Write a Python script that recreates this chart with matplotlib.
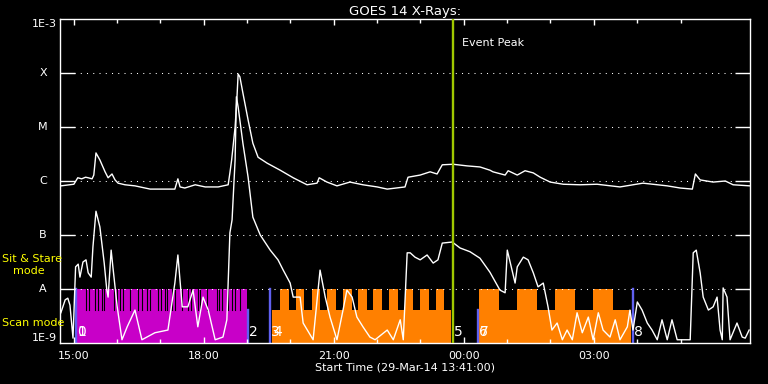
import matplotlib.pyplot as plt
import numpy as np
from matplotlib.ticker import NullLocator

# time in hours after the start time (29-Mar-14 13:41:00), flux as log10(W/m^2)
long_t = [0.02, 0.32, 0.41, 0.50, 0.59, 0.65, 0.74, 0.78, 0.83, 0.92, 1.04, 1.11, 1.20, 1.27,
          1.34, 1.50, 1.73, 2.08, 2.42, 2.65, 2.72, 2.77, 2.88, 3.12, 3.35, 3.65, 3.88, 3.92,
          3.96, 4.04, 4.08, 4.11, 4.15, 4.22, 4.34, 4.45, 4.57, 4.78, 5.08, 5.38, 5.70, 5.93,
          5.98, 6.16, 6.39, 6.69, 6.99, 7.32, 7.55, 7.96, 8.03, 8.31, 8.54, 8.70, 8.82, 9.07,
          9.39, 9.69, 9.92, 9.99, 10.27, 10.34, 10.55, 10.73, 10.92, 11.08, 11.31, 11.61, 12.00,
          12.39, 12.92, 13.45, 14.01, 14.31, 14.59, 14.66, 14.77, 15.07, 15.35, 15.53, 15.92]
long_logf = [-6.09, -6.06, -5.94, -5.96, -5.93, -5.94, -5.96, -5.89, -5.48, -5.61, -5.83, -5.94,
             -5.87, -5.98, -6.04, -6.07, -6.09, -6.15, -6.15, -6.15, -5.96, -6.11, -6.13, -6.07,
             -6.11, -6.11, -6.07, -5.85, -5.61, -5.00, -4.50, -4.02, -4.07, -4.37, -4.87, -5.30,
             -5.56, -5.67, -5.80, -5.94, -6.07, -6.04, -5.94, -6.02, -6.09, -6.02, -6.07, -6.11,
             -6.15, -6.11, -5.93, -5.89, -5.83, -5.87, -5.70, -5.69, -5.72, -5.74, -5.80, -5.83,
             -5.89, -5.81, -5.89, -5.81, -5.85, -5.93, -6.02, -6.06, -6.07, -6.06, -6.11, -6.04,
             -6.09, -6.13, -6.15, -5.87, -5.98, -6.02, -6.00, -6.07, -6.09]

short_t = [0.02, 0.12, 0.18, 0.23, 0.30, 0.36, 0.42, 0.46, 0.53, 0.60, 0.65, 0.72, 0.76, 0.83,
           0.92, 1.02, 1.08, 1.11, 1.18, 1.22, 1.32, 1.43, 1.55, 1.73, 1.89, 2.19, 2.49, 2.65,
           2.72, 2.82, 2.95, 3.07, 3.18, 3.30, 3.42, 3.58, 3.76, 3.85, 3.92, 3.97, 4.04, 4.07,
           4.11, 4.22, 4.34, 4.45, 4.62, 4.85, 5.03, 5.15, 5.31, 5.38, 5.54, 5.61, 5.84, 6.00,
           6.12, 6.23, 6.39, 6.53, 6.62, 6.74, 6.85, 6.99, 7.15, 7.27, 7.55, 7.69, 7.85, 7.92,
           8.01, 8.08, 8.19, 8.31, 8.47, 8.61, 8.72, 8.82, 9.05, 9.23, 9.46, 9.69, 9.92, 10.15,
           10.27, 10.32, 10.39, 10.50, 10.55, 10.69, 10.80, 10.92, 11.03, 11.15, 11.26, 11.35,
           11.47, 11.59, 11.70, 11.82, 11.93, 12.05, 12.19, 12.30, 12.42, 12.53, 12.69, 12.81,
           12.92, 13.09, 13.15, 13.22, 13.32, 13.43, 13.55, 13.66, 13.78, 13.89, 14.01, 14.12,
           14.24, 14.54, 14.61, 14.68, 14.77, 14.84, 14.96, 15.07, 15.16, 15.23, 15.28, 15.30,
           15.39, 15.46, 15.62, 15.74, 15.81, 15.90]
short_logf = [-8.44, -8.20, -8.17, -8.30, -8.91, -7.59, -7.54, -7.78, -7.50, -7.46, -7.70, -7.78,
              -7.22, -6.56, -6.85, -7.52, -8.02, -8.15, -7.28, -7.59, -8.33, -8.94, -8.70, -8.39,
              -8.94, -8.81, -8.76, -7.89, -7.37, -8.33, -8.33, -8.02, -8.70, -8.15, -8.39, -8.94,
              -8.89, -8.57, -6.96, -6.72, -5.61, -4.44, -4.63, -5.30, -5.93, -6.67, -7.00, -7.28,
              -7.46, -7.65, -7.89, -8.15, -8.15, -8.63, -8.94, -7.65, -8.15, -8.52, -8.94, -8.39,
              -8.02, -8.15, -8.52, -8.70, -8.89, -8.94, -8.76, -8.94, -8.57, -8.94, -7.33, -7.33,
              -7.41, -7.46, -7.37, -7.52, -7.46, -7.15, -7.13, -7.24, -7.31, -7.43, -7.69, -8.02,
              -8.07, -7.28, -7.52, -7.89, -7.59, -7.41, -7.46, -7.70, -7.96, -7.89, -8.33, -8.76,
              -8.63, -8.94, -8.76, -8.94, -8.44, -8.81, -8.52, -8.94, -8.44, -8.76, -8.89, -8.57,
              -8.94, -8.70, -8.39, -8.76, -8.24, -8.39, -8.63, -8.76, -8.94, -8.57, -8.94, -8.57,
              -8.94, -8.94, -7.33, -7.28, -7.70, -8.15, -8.39, -8.33, -8.15, -8.76, -8.94, -7.98,
              -8.15, -8.94, -8.63, -8.89, -8.91, -8.76]

level_vals = [1e-9, 1e-8, 1e-7, 1e-6, 1e-5, 1e-4, 1e-3]
level_names = ['1E-9', 'A', 'B', 'C', 'M', 'X', '1E-3']

time_labels = ['15:00', '18:00', '21:00', '00:00', '03:00']
start_minute = 41
t_end = 15.92
event_peak = 9.06

# observation timeline
sit_stare_span = (0.39, 4.31)
sit_stare_gaps = [0.59, 0.67, 0.81, 0.88, 0.98, 1.02, 1.24, 1.32, 1.38, 1.46, 1.62, 1.81, 1.89,
                  2.01, 2.08, 2.27, 2.33, 2.42, 2.48, 2.58, 2.65, 2.81, 2.96, 3.02, 3.19, 3.23,
                  3.39, 3.62, 3.68, 3.73, 3.88, 3.96, 4.04, 4.15]
scan_spans = [(4.89, 9.02), (9.67, 13.18)]
scan_blocks = [(5.08, 5.29), (5.45, 5.64), (5.81, 6.00), (6.17, 6.36), (6.52, 6.73), (6.88, 7.08),
               (7.23, 7.44), (7.59, 7.79), (7.96, 8.15), (8.31, 8.52), (8.67, 8.86),
               (9.67, 10.13), (10.55, 11.01), (11.42, 11.89), (12.30, 12.76)]
marker_full = [0.37, 4.85, 13.21]
marker_low = [4.33, 9.64]
obs_starts = [0.37, 0.39, 4.33, 4.85, 4.89, 9.06, 9.64, 9.67, 13.21]

purple = '#c800c8'
orange = '#ff8000'
blue = '#6060f0'

fig = plt.figure(figsize=(7.68, 3.84), dpi=100, facecolor='black')
ax = fig.add_axes([60/768, 41/384, 690/768, 324/384], facecolor='black')

f_mid = 33/324
f_top = 1/6

ax.axvspan(sit_stare_span[0], sit_stare_span[1], ymin=0, ymax=f_top, color=purple, lw=0, zorder=1)
for g in sit_stare_gaps:
    ax.axvline(g, ymin=f_mid, ymax=f_top, color='black', lw=0.8, zorder=1.1)
for a, b in scan_spans:
    ax.axvspan(a, b, ymin=0, ymax=f_mid, color=orange, lw=0, zorder=1)
for a, b in scan_blocks:
    ax.axvspan(a, b, ymin=f_mid, ymax=f_top, color=orange, lw=0, zorder=1)
for m in marker_full:
    ax.axvline(m, ymin=0, ymax=f_top, color=blue, lw=1.7, zorder=1.2)
for m in marker_low:
    ax.axvline(m, ymin=0, ymax=f_mid, color=blue, lw=1.7, zorder=1.2)
for i, s in enumerate(obs_starts):
    ax.annotate(str(i), (s, 0.012), xycoords=ax.get_xaxis_transform(), xytext=(1, 0),
                textcoords='offset pixels', color='white', fontsize=10, ha='left', va='bottom',
                zorder=3)

ax.semilogy(long_t, 10**np.array(long_logf), color='white', lw=1.0, zorder=2)
ax.semilogy(short_t, 10**np.array(short_logf), color='white', lw=1.0, zorder=2)

for v in level_vals[1:-1]:
    ax.axhline(v, xmin=14/690, xmax=675/690, color='white', lw=0.75, ls=(0, (1, 5)), zorder=1.5)

ax.axvline(event_peak, color='#a0c800', lw=1.7, zorder=4)
ax.annotate('Event Peak', (event_peak, 0.926), xycoords=ax.get_xaxis_transform(),
            xytext=(9, 0), textcoords='offset pixels', color='white', fontsize=8,
            ha='left', va='center')

ax.set_xlim(0, t_end)
ax.set_ylim(1e-9, 1e-3)

first = (60 - start_minute) / 60
major = [first + 3*k for k in range(len(time_labels))]
minor = [first - 1 + k for k in range(int(t_end) + 1) if 0 < first - 1 + k < t_end]
ax.set_xticks(major)
ax.set_xticklabels(time_labels)
ax.set_xticks(minor, minor=True)
ax.tick_params(axis='x', which='major', direction='in', length=4.5, width=1, colors='white',
               top=True, bottom=True, labelsize=8, pad=5.5)
ax.tick_params(axis='x', which='minor', direction='in', length=3, width=1, colors='white',
               top=True, bottom=True)

ax.set_yticks(level_vals[1:-1])
ax.yaxis.set_minor_locator(NullLocator())
ax.set_yticklabels([])
ax.tick_params(axis='y', which='major', direction='in', length=10.8, width=1, colors='white',
               left=True, right=True)

ytr = ax.get_yaxis_transform()
for v, name in zip(level_vals, level_names):
    if name.startswith('1E'):
        va = 'top' if v == level_vals[-1] else 'bottom'
        ax.text(-3/690, v, name, transform=ytr, ha='right', va=va, color='white', fontsize=8)
    else:
        ax.text(-17/690, v, name, transform=ytr, ha='center', va='center', color='white', fontsize=8)

for sp in ax.spines.values():
    sp.set_color('white')
    sp.set_linewidth(1)

ax.set_title('GOES 14 X-Rays:', color='white', fontsize=9.5, pad=3)
fig.text(405/768, 1 - 368/384, 'Start Time (29-Mar-14 13:41:00)', color='white', fontsize=8,
         ha='center', va='center')

fig.text(2/768, 1 - 259/384, 'Sit & Stare', color='yellow', fontsize=8, ha='left', va='center')
fig.text(13/768, 1 - 271/384, 'mode', color='yellow', fontsize=8, ha='left', va='center')
fig.text(2/768, 1 - 323.5/384, 'Scan mode', color='yellow', fontsize=8, ha='left', va='center')

fig.savefig('out.png', dpi=100, facecolor='black')
